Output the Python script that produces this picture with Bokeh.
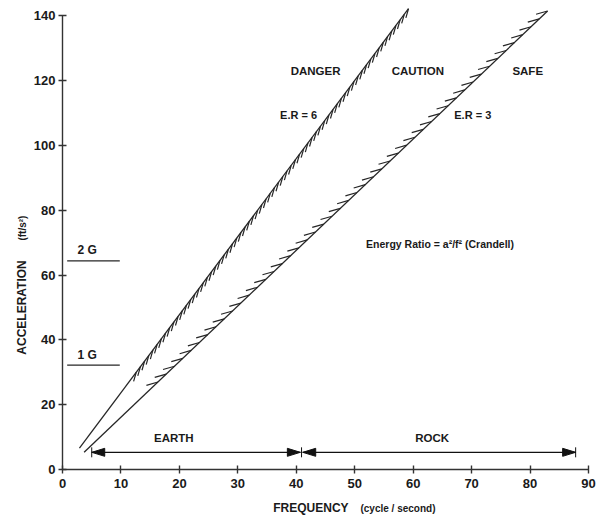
import numpy as np
from bokeh.plotting import figure
from bokeh.models import Range1d, Label, FixedTicker
from bokeh.embed import file_html
from bokeh.resources import INLINE

# ---------------- data ----------------
x_ticks = [0, 10, 20, 30, 40, 50, 60, 70, 80, 90]
y_ticks = [0, 20, 40, 60, 80, 100, 120, 140]

er6_freq = [2.9, 59.2]
er6_accel = [6.6, 142.2]
er3_freq = [3.7, 83.0]
er3_accel = [5.3, 141.5]
er6_hatch_from = 30.0
er3_hatch_from = 27.0

g_names = ["1 G", "2 G"]
g_levels = [32.2, 64.4]
g_freq = [0.8, 9.8]

earth_freq = [5.0, 40.7]
rock_freq = [41.1, 87.8]
band_accel = 5.3

zone_names = ["DANGER", "CAUTION", "SAFE"]
zone_freq = [43.3, 60.8, 79.6]
zone_accel = [123.0, 123.0, 123.0]

# ---------------- figure geometry ----------------
W, H = 600, 518
LB, RB, TB, BB = 62, 12, 4, 49          # where the axes sit in the window
X_END, Y_END = 90, 143.5
px_x = (W - LB - RB) / X_END
px_y = (H - TB - BB) / Y_END

FONT = "Liberation Sans"
INK = "#1a1a1a"
LINE = "#262626"

p = figure(width=W, height=H,
           x_range=Range1d(-LB / px_x, X_END + RB / px_x),
           y_range=Range1d(-BB / px_y, Y_END + TB / px_y),
           output_backend="svg", toolbar_location=None,
           min_border=0, min_border_left=0, min_border_right=0,
           min_border_top=0, min_border_bottom=0)
p.outline_line_color = None
p.xgrid.visible = False
p.ygrid.visible = False
p.background_fill_color = "white"

for ax, ticks in ((p.xaxis, x_ticks), (p.yaxis, y_ticks)):
    ax.fixed_location = 0
    ax.ticker = FixedTicker(ticks=ticks)
    ax.axis_line_color = "#333333"
    ax.axis_line_width = 1.4
    ax.major_tick_line_color = "#333333"
    ax.major_tick_line_width = 1.4
    ax.major_tick_in = 4
    ax.major_tick_out = 4
    ax.minor_tick_line_color = None
    ax.major_label_text_font = FONT
    ax.major_label_text_font_style = "bold"
    ax.major_label_text_font_size = "13px"
    ax.major_label_text_color = INK
p.xaxis.bounds = (0, 90)
p.yaxis.bounds = (0, 140)
p.yaxis.major_label_standoff = 3
p.xaxis.major_label_standoff = 5

# ---------------- energy ratio lines ----------------
p.line(er6_freq, er6_accel, line_color=LINE, line_width=1.3)
p.line(er3_freq, er3_accel, line_color=LINE, line_width=1.3)


def hatch(f, a, a_from, n, ang_deg, length):
    t0 = (a_from - a[0]) / (a[1] - a[0])
    ts = np.linspace(t0, 1.0, n)
    x0 = f[0] + ts * (f[1] - f[0])
    y0 = a[0] + ts * (a[1] - a[0])
    ang = np.deg2rad(ang_deg)
    dx = length * np.cos(ang) / px_x
    dy = length * np.sin(ang) / px_y
    return x0, y0, x0 + dx, y0 + dy


hx0, hy0, hx1, hy1 = hatch(er6_freq, er6_accel, er6_hatch_from, 66, -106, 9.5)
p.segment(hx0, hy0, hx1, hy1, line_color=LINE, line_width=1.2)
hx0, hy0, hx1, hy1 = hatch(er3_freq, er3_accel, er3_hatch_from, 48, 196, 12)
p.segment(hx0, hy0, hx1, hy1, line_color=LINE, line_width=1.2)

# ---------------- G reference lines ----------------
for name, lvl in zip(g_names, g_levels):
    p.line(g_freq, [lvl, lvl], line_color=LINE, line_width=1.2)
    p.add_layout(Label(x=(g_freq[0] + g_freq[1]) / 2 - 1.1, y=lvl + 3.2, text=name,
                       text_align="center", text_baseline="middle",
                       text_font=FONT, text_font_style="bold", text_font_size="12px",
                       text_color=INK))

# ---------------- EARTH / ROCK ranges ----------------
ah_len = 13 / px_x
ah_half = 4 / px_y
bar_half = 5 / px_y
tri_x, tri_y = [], []
for rng in (earth_freq, rock_freq):
    p.line(rng, [band_accel, band_accel], line_color="#111111", line_width=1.2)
    tri_x.append([rng[0], rng[0] + ah_len, rng[0] + ah_len])
    tri_y.append([band_accel, band_accel + ah_half, band_accel - ah_half])
    tri_x.append([rng[1], rng[1] - ah_len, rng[1] - ah_len])
    tri_y.append([band_accel, band_accel + ah_half, band_accel - ah_half])
p.patches(tri_x, tri_y, fill_color="#111111", line_color="#111111")
bars = [earth_freq[0], (earth_freq[1] + rock_freq[0]) / 2, rock_freq[1]]
p.segment(bars, [band_accel - bar_half] * 3, bars, [band_accel + bar_half] * 3,
          line_color="#111111", line_width=1.0)


def label(x, y, text, size="11.5px", angle=0.0, align="center"):
    p.add_layout(Label(x=x, y=y, text=text, angle=angle, text_align=align,
                       text_baseline="middle", text_font=FONT, text_font_style="bold",
                       text_font_size=size, text_color=INK))


label((earth_freq[0] + earth_freq[1]) / 2 - 3.8, band_accel + 4.5, "EARTH")
label((rock_freq[0] + rock_freq[1]) / 2 - 1.2, band_accel + 4.5, "ROCK")

for name, fx, ay in zip(zone_names, zone_freq, zone_accel):
    label(fx, ay, name)

label(40.4, 109.5, "E.R = 6", size="11px")
label(70.2, 109.5, "E.R = 3", size="11px")
label(64.6, 69.5, "Energy Ratio = a²/f² (Crandell)", size="10.5px")

# axis titles
label(-6.9, 50.0, "ACCELERATION", size="12px", angle=np.pi / 2)
label(-6.9, 74.5, "(ft/s²)", size="10px", angle=np.pi / 2)
label(42.5, -12.0, "FREQUENCY", size="12px")
label(57.4, -12.0, "(cycle / second)", size="10px")

open("out.html", "w").write(file_html(p, INLINE))
